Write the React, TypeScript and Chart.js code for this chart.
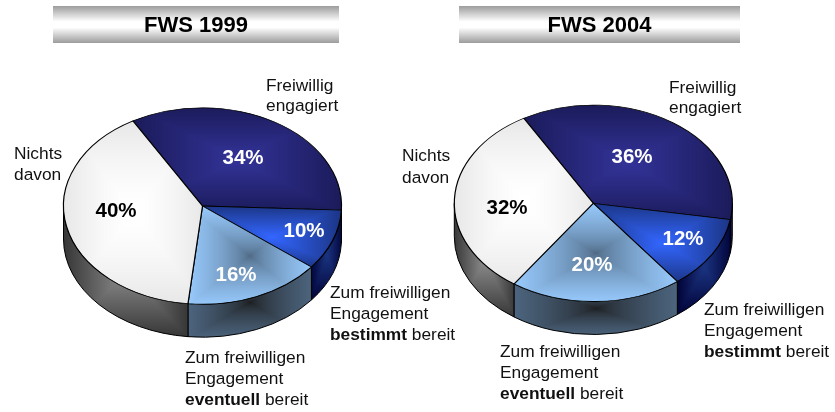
import React, { useEffect, useRef } from "react";
import { Chart, registerables } from "chart.js";

Chart.register(...registerables);

const categories = ["Freiwillig engagiert", "bestimmt bereit", "eventuell bereit", "Nichts davon"];
const values1999 = [34, 10, 16, 40];
const values2004 = [36, 12, 20, 32];
const titles = ["FWS 1999", "FWS 2004"];

const FONT = '"Liberation Sans", Arial, sans-serif';
const W = 835;
const H = 412;
const RX = 139;
const SQUASH = 98.2 / 139;
const DEPTH = 33;
const ROTATION = -30;

// [centre colour, edge colour, easing exponent]
const topColors: [string, string, number][] = [
  ["#333399", "#1a1a59", 1],
  ["#3366ff", "#1a3380", 1],
  ["#4d6680", "#99ccff", 0.65],
  ["#ffffff", "#e6e6e6", 1.5],
];
const wallColors: [string, string, number][] = [
  ["#1a1a59", "#000033", 1],
  ["#1a3380", "#000033", 1],
  ["#1a1a1a", "#4d6680", 0.6],
  ["#8c8c8c", "#333333", 1],
];
const pctColors = ["#ffffff", "#ffffff", "#ffffff", "#000000"];

type Line = [number, number, string, string?];

const pies = [
  {
    values: values1999,
    title: titles[0],
    cx: 202.5,
    cy: 206,
    band: [53, 6, 286, 37],
    pct: [[243, 158], [304, 231], [236, 275], [116, 211]],
    lines: [
      [266, 90.5, "Freiwillig"],
      [266, 111, "engagiert"],
      [14, 159, "Nichts"],
      [14, 179.5, "davon"],
      [330, 298, "Zum freiwilligen"],
      [330, 319, "Engagement"],
      [330, 339.5, " bereit", "bestimmt"],
      [185, 363, "Zum freiwilligen"],
      [185, 384, "Engagement"],
      [185, 405, " bereit", "eventuell"],
    ] as Line[],
  },
  {
    values: values2004,
    title: titles[1],
    cx: 593.3,
    cy: 203.3,
    band: [459, 6, 281, 37],
    pct: [[632, 157], [683, 239], [592, 265], [507, 208]],
    lines: [
      [669, 92.5, "Freiwillig"],
      [669, 113, "engagiert"],
      [402, 161, "Nichts"],
      [402, 182.5, "davon"],
      [704, 315, "Zum freiwilligen"],
      [704, 336, "Engagement"],
      [704, 357, " bereit", "bestimmt"],
      [500, 357, "Zum freiwilligen"],
      [500, 378, "Engagement"],
      [500, 399, " bereit", "eventuell"],
    ] as Line[],
  },
];

function hexRgb(h: string) {
  return [1, 3, 5].map((i) => parseInt(h.slice(i, i + 2), 16));
}

// Rectangular "path" gradient, as in the presentation software that made the source.
function pyramidPattern(ctx: CanvasRenderingContext2D, pts: number[][], tone: [string, string, number], matrix: (bx: number, by: number) => DOMMatrix) {
  const xs = pts.map((p) => p[0]);
  const ys = pts.map((p) => p[1]);
  const bx = Math.floor(Math.min(...xs)) - 2;
  const by = Math.floor(Math.min(...ys)) - 2;
  const bw = Math.ceil(Math.max(...xs)) + 2 - bx;
  const bh = Math.ceil(Math.max(...ys)) + 2 - by;
  const off = document.createElement("canvas");
  off.width = bw;
  off.height = bh;
  const oc = off.getContext("2d")!;
  const img = oc.createImageData(bw, bh);
  const c0 = hexRgb(tone[0]);
  const c1 = hexRgb(tone[1]);
  for (let y = 0; y < bh; y++) {
    for (let x = 0; x < bw; x++) {
      const raw = Math.min(1, Math.max(Math.abs(x - bw / 2) / (bw / 2), Math.abs(y - bh / 2) / (bh / 2)));
      const t = Math.pow(raw, tone[2]);
      const i = (y * bw + x) * 4;
      for (let k = 0; k < 3; k++) img.data[i + k] = c0[k] + (c1[k] - c0[k]) * t;
      img.data[i + 3] = 255;
    }
  }
  oc.putImageData(img, 0, 0);
  const pat = ctx.createPattern(off, "repeat")!;
  pat.setTransform(matrix(bx, by));
  return pat;
}

function sliceRange(values: number[], idx: number) {
  const total = values.reduce((a, b) => a + b, 0);
  const before = values.slice(0, idx).reduce((a, b) => a + b, 0);
  const start = -Math.PI / 2 + (ROTATION * Math.PI) / 180;
  return [start + (before / total) * 2 * Math.PI, start + ((before + values[idx]) / total) * 2 * Math.PI];
}

function arcPoints(cx: number, cy: number, a0: number, a1: number, dy = 0) {
  const pts: number[][] = [];
  for (let i = 0; i <= 60; i++) {
    const a = a0 + ((a1 - a0) * i) / 60;
    pts.push([cx + RX * Math.cos(a), cy + RX * SQUASH * Math.sin(a) + dy]);
  }
  return pts;
}

function frontRanges(a0: number, a1: number) {
  const out: number[][] = [];
  for (const [lo, hi] of [[0, Math.PI], [2 * Math.PI, 3 * Math.PI]]) {
    const s = Math.max(a0, lo);
    const e = Math.min(a1, hi);
    if (e > s) out.push([s, e]);
  }
  return out;
}

function makeChart(canvas: HTMLCanvasElement, pie: (typeof pies)[number]) {
  const cache = new Map<number, CanvasPattern>();
  const ctx0 = canvas.getContext("2d")!;

  const topFill = (idx: number) => {
    if (!cache.has(idx)) {
      const [a0, a1] = sliceRange(pie.values, idx);
      const pts = [[pie.cx, pie.cy], ...arcPoints(pie.cx, pie.cy, a0, a1)];
      cache.set(
        idx,
        pyramidPattern(ctx0, pts, topColors[idx], (bx, by) =>
          new DOMMatrix()
            .translate(pie.cx, pie.cy)
            .scale(1, 1 / SQUASH)
            .translate(-pie.cx, -pie.cy)
            .translate(bx, by)
        )
      );
    }
    return cache.get(idx)!;
  };

  const plugin = {
    id: "pie3d",
    beforeDatasetsDraw(chart: any) {
      const ctx = chart.ctx as CanvasRenderingContext2D;
      const arcs = chart.getDatasetMeta(0).data;
      arcs.forEach((arc: any, idx: number) => {
        for (const [s, e] of frontRanges(arc.startAngle, arc.endAngle)) {
          const pts = [...arcPoints(arc.x, arc.y, s, e), ...arcPoints(arc.x, arc.y, s, e, DEPTH)];
          const fill = pyramidPattern(ctx, pts, wallColors[idx], (bx, by) =>
            new DOMMatrix().translate(bx, by)
          );
          ctx.beginPath();
          ctx.ellipse(arc.x, arc.y, arc.outerRadius, arc.outerRadius * SQUASH, 0, s, e);
          ctx.ellipse(arc.x, arc.y + DEPTH, arc.outerRadius, arc.outerRadius * SQUASH, 0, e, s, true);
          ctx.closePath();
          ctx.fillStyle = fill;
          ctx.fill();
          ctx.strokeStyle = "#000000";
          ctx.lineWidth = 1;
          ctx.stroke();
        }
      });
      ctx.save();
      ctx.translate(pie.cx, pie.cy);
      ctx.scale(1, SQUASH);
      ctx.translate(-pie.cx, -pie.cy);
    },
    afterDatasetsDraw(chart: any) {
      const ctx = chart.ctx as CanvasRenderingContext2D;
      ctx.restore();

      const [bx, by, bw, bh] = pie.band;
      const g = ctx.createLinearGradient(0, by, 0, by + bh);
      g.addColorStop(0, "#9c9c9c");
      g.addColorStop(0.42, "#ffffff");
      g.addColorStop(0.58, "#ffffff");
      g.addColorStop(1, "#9c9c9c");
      ctx.fillStyle = g;
      ctx.fillRect(bx, by, bw, bh);

      ctx.fillStyle = "#000000";
      ctx.textAlign = "center";
      ctx.textBaseline = "middle";
      ctx.font = `bold 22px ${FONT}`;
      ctx.fillText(pie.title, bx + bw / 2, by + bh / 2 + 1);

      ctx.font = `bold 20.5px ${FONT}`;
      pie.values.forEach((v, i) => {
        ctx.fillStyle = pctColors[i];
        ctx.fillText(`${v}%`, pie.pct[i][0], pie.pct[i][1]);
      });

      ctx.textAlign = "left";
      ctx.textBaseline = "alphabetic";
      ctx.fillStyle = "#111111";
      for (const [x, y, text, bold] of pie.lines) {
        let px = x;
        if (bold) {
          ctx.font = `bold 17.33px ${FONT}`;
          ctx.fillText(bold, px, y);
          px += ctx.measureText(bold).width;
        }
        ctx.font = `17.33px ${FONT}`;
        ctx.fillText(text, px, y);
      }
    },
  };

  return new Chart(canvas, {
    type: "pie",
    data: {
      labels: categories,
      datasets: [
        {
          data: pie.values,
          backgroundColor: (c: any) => topFill(c.dataIndex),
          borderColor: "#000000",
          borderWidth: 1.2,
          clip: false,
        } as any,
      ],
    },
    options: {
      responsive: false,
      animation: false,
      devicePixelRatio: 1,
      events: [],
      rotation: ROTATION,
      radius: RX,
      layout: {
        padding: {
          left: Math.max(0, 2 * pie.cx - W),
          right: Math.max(0, W - 2 * pie.cx),
          top: Math.max(0, 2 * pie.cy - H),
          bottom: Math.max(0, H - 2 * pie.cy),
        },
      },
      plugins: { legend: { display: false }, tooltip: { enabled: false }, title: { display: false } },
    } as any,
    plugins: [plugin as any],
  });
}

export default function App() {
  const ref0 = useRef<HTMLCanvasElement>(null);
  const ref1 = useRef<HTMLCanvasElement>(null);
  useEffect(() => {
    const charts = [makeChart(ref0.current!, pies[0]), makeChart(ref1.current!, pies[1])];
    return () => charts.forEach((c) => c.destroy());
  }, []);
  const style: React.CSSProperties = { position: "absolute", left: 0, top: 0, display: "block" };
  return (
    <div style={{ position: "absolute", left: 0, top: 0, width: W, height: H, overflow: "hidden", background: "#fff" }}>
      <canvas ref={ref0} width={W} height={H} style={style} />
      <canvas ref={ref1} width={W} height={H} style={style} />
    </div>
  );
}
